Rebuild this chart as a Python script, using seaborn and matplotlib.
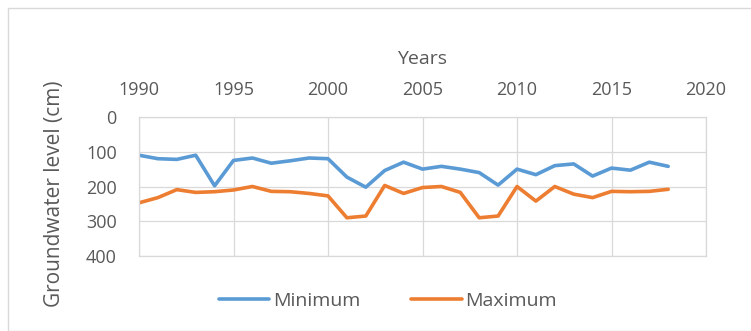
import pandas as pd
import numpy as np
import matplotlib.pyplot as plt
import seaborn as sns
from matplotlib.patches import Rectangle

# ================================
# 1. DATA
# ================================
years = list(range(1990, 2019))
minimum = [110, 120, 122, 110, 198, 125, 118, 133, 126, 118,
           120, 173, 202, 154, 130, 150, 142, 150, 160, 196,
           150, 166, 140, 135, 170, 147, 153, 130, 142]
maximum = [247, 232, 209, 217, 215, 210, 200, 214, 215, 220,
           227, 290, 285, 197, 220, 203, 200, 217, 290, 285,
           200, 242, 200, 222, 232, 214, 215, 214, 208]
series_names = ['Minimum', 'Maximum']
x_ticks = [1990, 1995, 2000, 2005, 2010, 2015, 2020]
y_ticks = [0, 100, 200, 300, 400]

df = pd.DataFrame({'Year': years, 'Minimum': minimum, 'Maximum': maximum})
long_df = df.melt(id_vars='Year', value_vars=series_names,
                  var_name='Series', value_name='Level')

# ================================
# 2. PLOT
# ================================
sns.set_style('white')
plt.rcParams['font.family'] = ['Open Sans', 'DejaVu Sans']
text_col = '#595959'
colors = {'Minimum': '#5B9BD5', 'Maximum': '#ED7D31'}

fig = plt.figure(figsize=(7.51, 3.31), dpi=100)
ax = fig.add_axes([139 / 751, 1 - 256 / 331, (706 - 139) / 751, (256 - 117) / 331])

sns.lineplot(data=long_df, x='Year', y='Level', hue='Series',
             hue_order=series_names, palette=colors,
             linewidth=2.6, ax=ax, legend=False)

ax.set_xlim(1990, 2020)
ax.set_ylim(400, 0)
ax.set_xticks(x_ticks)
ax.set_yticks(y_ticks)
ax.xaxis.tick_top()
ax.xaxis.set_label_position('top')
ax.tick_params(axis='both', length=0, labelsize=13, colors=text_col)
ax.tick_params(axis='x', pad=13)
ax.tick_params(axis='y', pad=16)
ax.grid(True, color='#D9D9D9', linewidth=0.9)
for s in ax.spines.values():
    s.set_color('#D9D9D9')
    s.set_linewidth(0.9)

ax.set_xlabel('Years', fontsize=14, color=text_col, labelpad=12)
ax.set_ylabel('Groundwater level (cm)', fontsize=15, color=text_col)
ax.yaxis.set_label_coords(-0.13, 0.45)

# legend at bottom
handles = [plt.Line2D([], [], color=colors[n], linewidth=2.6) for n in series_names]
fig.legend(handles, series_names, loc='center', bbox_to_anchor=(388 / 751, 1 - 301 / 331),
           ncol=2, frameon=False, fontsize=14, labelcolor=text_col,
           handlelength=2.6, handletextpad=0.2, columnspacing=2.6)

# chart area border
fig.patches.append(Rectangle((8 / 751, 0), 1, 1 - 8 / 331, transform=fig.transFigure,
                             fill=False, edgecolor='#D9D9D9', linewidth=1))

fig.savefig('out.png', dpi=100)
